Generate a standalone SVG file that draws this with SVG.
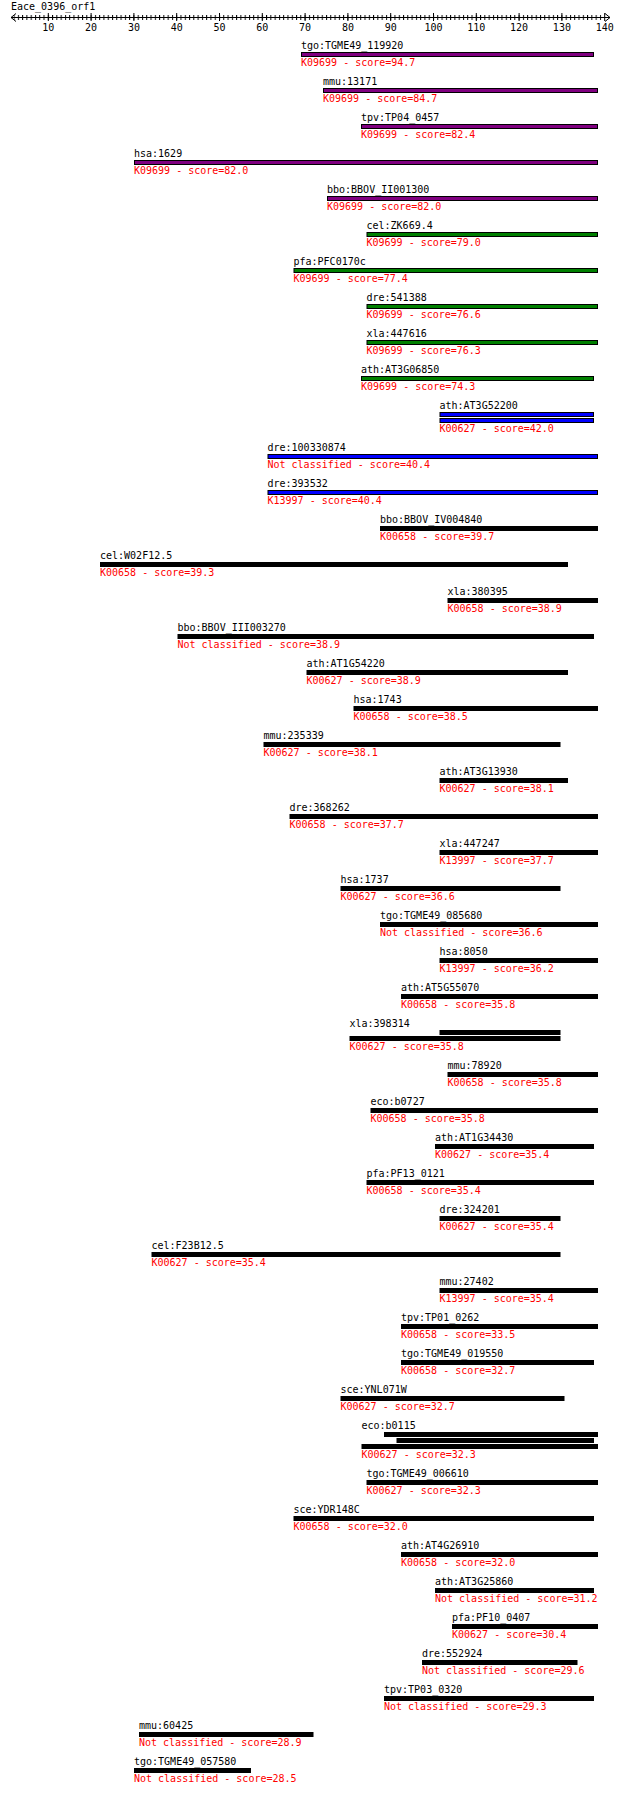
<svg xmlns="http://www.w3.org/2000/svg" width="620" height="1793" viewBox="0 0 620 1793">
<style>
text{font-family:"DejaVu Sans Mono","Liberation Mono",monospace;font-size:10px;fill:#000}
text.sc{fill:#ff0000}
text.tl{text-anchor:middle}
rect.p{fill:#800080;stroke:#000;stroke-width:1}
rect.g{fill:#008000;stroke:#000;stroke-width:1}
rect.b{fill:#0000ff;stroke:#000;stroke-width:1}
rect.k{fill:#000}
.ax{fill:none;stroke:#000;stroke-width:1}
</style>
<defs>
<pattern id="tk" x="13.56" y="15" width="4.28" height="5" patternUnits="userSpaceOnUse"><rect x="0" y="0" width="1" height="5" fill="#000"/></pattern>
</defs>
<rect width="620" height="1793" fill="#fff"/>
<g id="ruler">
<text x="11" y="9.5">Eace_0396_orf1</text>
<path class="ax" d="M11 17.5H610M16 13.5L11 17.5L16 21.5M605 13.5L610 17.5L605 21.5"/>
<rect x="13.56" y="15" width="588" height="5" fill="url(#tk)"/>
<path class="ax" d="M48.3 13v8M91.1 13v8M133.9 13v8M176.7 13v8M219.5 13v8M262.3 13v8M305.1 13v8M347.9 13v8M390.7 13v8M433.5 13v8M476.3 13v8M519.1 13v8M561.9 13v8M604.7 13v8"/>
<text class="tl" x="48.3" y="30.5">10</text>
<text class="tl" x="91.1" y="30.5">20</text>
<text class="tl" x="133.9" y="30.5">30</text>
<text class="tl" x="176.7" y="30.5">40</text>
<text class="tl" x="219.5" y="30.5">50</text>
<text class="tl" x="262.3" y="30.5">60</text>
<text class="tl" x="305.1" y="30.5">70</text>
<text class="tl" x="347.9" y="30.5">80</text>
<text class="tl" x="390.7" y="30.5">90</text>
<text class="tl" x="433.5" y="30.5">100</text>
<text class="tl" x="476.3" y="30.5">110</text>
<text class="tl" x="519.1" y="30.5">120</text>
<text class="tl" x="561.9" y="30.5">130</text>
<text class="tl" x="604.7" y="30.5">140</text>
</g>
<g id="r1"><text x="301" y="48.5">tgo:TGME49_119920</text><rect class="p" x="301.5" y="52.5" width="292" height="4"/><text class="sc" x="301" y="66.3">K09699 - score=94.7</text></g>
<g id="r2"><text x="323" y="84.5">mmu:13171</text><rect class="p" x="323.5" y="88.5" width="274" height="4"/><text class="sc" x="323" y="102.3">K09699 - score=84.7</text></g>
<g id="r3"><text x="361" y="120.5">tpv:TP04_0457</text><rect class="p" x="361.5" y="124.5" width="236" height="4"/><text class="sc" x="361" y="138.3">K09699 - score=82.4</text></g>
<g id="r4"><text x="134" y="156.5">hsa:1629</text><rect class="p" x="134.5" y="160.5" width="463" height="4"/><text class="sc" x="134" y="174.3">K09699 - score=82.0</text></g>
<g id="r5"><text x="327" y="192.5">bbo:BBOV_II001300</text><rect class="p" x="327.5" y="196.5" width="270" height="4"/><text class="sc" x="327" y="210.3">K09699 - score=82.0</text></g>
<g id="r6"><text x="366.5" y="228.5">cel:ZK669.4</text><rect class="g" x="367" y="232.5" width="230.5" height="4"/><text class="sc" x="366.5" y="246.3">K09699 - score=79.0</text></g>
<g id="r7"><text x="293.5" y="264.5">pfa:PFC0170c</text><rect class="g" x="294" y="268.5" width="303.5" height="4"/><text class="sc" x="293.5" y="282.3">K09699 - score=77.4</text></g>
<g id="r8"><text x="366.5" y="300.5">dre:541388</text><rect class="g" x="367" y="304.5" width="230.5" height="4"/><text class="sc" x="366.5" y="318.3">K09699 - score=76.6</text></g>
<g id="r9"><text x="366.5" y="336.5">xla:447616</text><rect class="g" x="367" y="340.5" width="230.5" height="4"/><text class="sc" x="366.5" y="354.3">K09699 - score=76.3</text></g>
<g id="r10"><text x="361" y="372.5">ath:AT3G06850</text><rect class="g" x="361.5" y="376.5" width="232" height="4"/><text class="sc" x="361" y="390.3">K09699 - score=74.3</text></g>
<g id="r11"><text x="439.5" y="408.5">ath:AT3G52200</text><rect class="b" x="440" y="412.5" width="153.5" height="4"/><rect class="b" x="440" y="418.5" width="153.5" height="4"/><text class="sc" x="439.5" y="432.3">K00627 - score=42.0</text></g>
<g id="r12"><text x="267.5" y="450.5">dre:100330874</text><rect class="b" x="268" y="454.5" width="329.5" height="4"/><text class="sc" x="267.5" y="468.3">Not classified - score=40.4</text></g>
<g id="r13"><text x="267.5" y="486.5">dre:393532</text><rect class="b" x="268" y="490.5" width="329.5" height="4"/><text class="sc" x="267.5" y="504.3">K13997 - score=40.4</text></g>
<g id="r14"><text x="380" y="522.5">bbo:BBOV_IV004840</text><rect class="k" x="380" y="526" width="218" height="5"/><text class="sc" x="380" y="540.3">K00658 - score=39.7</text></g>
<g id="r15"><text x="100" y="558.5">cel:W02F12.5</text><rect class="k" x="100" y="562" width="468" height="5"/><text class="sc" x="100" y="576.3">K00658 - score=39.3</text></g>
<g id="r16"><text x="447.5" y="594.5">xla:380395</text><rect class="k" x="447.5" y="598" width="150.5" height="5"/><text class="sc" x="447.5" y="612.3">K00658 - score=38.9</text></g>
<g id="r17"><text x="177.5" y="630.5">bbo:BBOV_III003270</text><rect class="k" x="177.5" y="634" width="416.5" height="5"/><text class="sc" x="177.5" y="648.3">Not classified - score=38.9</text></g>
<g id="r18"><text x="306.5" y="666.5">ath:AT1G54220</text><rect class="k" x="306.5" y="670" width="261.5" height="5"/><text class="sc" x="306.5" y="684.3">K00627 - score=38.9</text></g>
<g id="r19"><text x="353.5" y="702.5">hsa:1743</text><rect class="k" x="353.5" y="706" width="244.5" height="5"/><text class="sc" x="353.5" y="720.3">K00658 - score=38.5</text></g>
<g id="r20"><text x="263.5" y="738.5">mmu:235339</text><rect class="k" x="263.5" y="742" width="297" height="5"/><text class="sc" x="263.5" y="756.3">K00627 - score=38.1</text></g>
<g id="r21"><text x="439.5" y="774.5">ath:AT3G13930</text><rect class="k" x="439.5" y="778" width="128.5" height="5"/><text class="sc" x="439.5" y="792.3">K00627 - score=38.1</text></g>
<g id="r22"><text x="289.5" y="810.5">dre:368262</text><rect class="k" x="289.5" y="814" width="308.5" height="5"/><text class="sc" x="289.5" y="828.3">K00658 - score=37.7</text></g>
<g id="r23"><text x="439.5" y="846.5">xla:447247</text><rect class="k" x="439.5" y="850" width="158.5" height="5"/><text class="sc" x="439.5" y="864.3">K13997 - score=37.7</text></g>
<g id="r24"><text x="340.5" y="882.5">hsa:1737</text><rect class="k" x="340.5" y="886" width="220" height="5"/><text class="sc" x="340.5" y="900.3">K00627 - score=36.6</text></g>
<g id="r25"><text x="380" y="918.5">tgo:TGME49_085680</text><rect class="k" x="380" y="922" width="218" height="5"/><text class="sc" x="380" y="936.3">Not classified - score=36.6</text></g>
<g id="r26"><text x="439.5" y="954.5">hsa:8050</text><rect class="k" x="439.5" y="958" width="158.5" height="5"/><text class="sc" x="439.5" y="972.3">K13997 - score=36.2</text></g>
<g id="r27"><text x="401" y="990.5">ath:AT5G55070</text><rect class="k" x="401" y="994" width="197" height="5"/><text class="sc" x="401" y="1008.3">K00658 - score=35.8</text></g>
<g id="r28"><text x="349.5" y="1026.5">xla:398314</text><rect class="k" x="439.5" y="1030" width="121" height="5"/><rect class="k" x="349.5" y="1036" width="211" height="5"/><text class="sc" x="349.5" y="1050.3">K00627 - score=35.8</text></g>
<g id="r29"><text x="447.5" y="1068.5">mmu:78920</text><rect class="k" x="447.5" y="1072" width="150.5" height="5"/><text class="sc" x="447.5" y="1086.3">K00658 - score=35.8</text></g>
<g id="r30"><text x="370.5" y="1104.5">eco:b0727</text><rect class="k" x="370.5" y="1108" width="227.5" height="5"/><text class="sc" x="370.5" y="1122.3">K00658 - score=35.8</text></g>
<g id="r31"><text x="435" y="1140.5">ath:AT1G34430</text><rect class="k" x="435" y="1144" width="159" height="5"/><text class="sc" x="435" y="1158.3">K00627 - score=35.4</text></g>
<g id="r32"><text x="366.5" y="1176.5">pfa:PF13_0121</text><rect class="k" x="366.5" y="1180" width="227.5" height="5"/><text class="sc" x="366.5" y="1194.3">K00658 - score=35.4</text></g>
<g id="r33"><text x="439.5" y="1212.5">dre:324201</text><rect class="k" x="439.5" y="1216" width="121" height="5"/><text class="sc" x="439.5" y="1230.3">K00627 - score=35.4</text></g>
<g id="r34"><text x="151.5" y="1248.5">cel:F23B12.5</text><rect class="k" x="151.5" y="1252" width="409" height="5"/><text class="sc" x="151.5" y="1266.3">K00627 - score=35.4</text></g>
<g id="r35"><text x="439.5" y="1284.5">mmu:27402</text><rect class="k" x="439.5" y="1288" width="158.5" height="5"/><text class="sc" x="439.5" y="1302.3">K13997 - score=35.4</text></g>
<g id="r36"><text x="401" y="1320.5">tpv:TP01_0262</text><rect class="k" x="401" y="1324" width="197" height="5"/><text class="sc" x="401" y="1338.3">K00658 - score=33.5</text></g>
<g id="r37"><text x="401" y="1356.5">tgo:TGME49_019550</text><rect class="k" x="401" y="1360" width="193" height="5"/><text class="sc" x="401" y="1374.3">K00658 - score=32.7</text></g>
<g id="r38"><text x="340.5" y="1392.5">sce:YNL071W</text><rect class="k" x="340.5" y="1396" width="224" height="5"/><text class="sc" x="340.5" y="1410.3">K00627 - score=32.7</text></g>
<g id="r39"><text x="361.5" y="1428.5">eco:b0115</text><rect class="k" x="384" y="1432" width="214" height="5"/><rect class="k" x="396.5" y="1438" width="197.5" height="5"/><rect class="k" x="361.5" y="1444" width="236.5" height="5"/><text class="sc" x="361.5" y="1458.3">K00627 - score=32.3</text></g>
<g id="r40"><text x="366.5" y="1476.5">tgo:TGME49_006610</text><rect class="k" x="366.5" y="1480" width="231.5" height="5"/><text class="sc" x="366.5" y="1494.3">K00627 - score=32.3</text></g>
<g id="r41"><text x="293.5" y="1512.5">sce:YDR148C</text><rect class="k" x="293.5" y="1516" width="300.5" height="5"/><text class="sc" x="293.5" y="1530.3">K00658 - score=32.0</text></g>
<g id="r42"><text x="401" y="1548.5">ath:AT4G26910</text><rect class="k" x="401" y="1552" width="197" height="5"/><text class="sc" x="401" y="1566.3">K00658 - score=32.0</text></g>
<g id="r43"><text x="435" y="1584.5">ath:AT3G25860</text><rect class="k" x="435" y="1588" width="159" height="5"/><text class="sc" x="435" y="1602.3">Not classified - score=31.2</text></g>
<g id="r44"><text x="452" y="1620.5">pfa:PF10_0407</text><rect class="k" x="452" y="1624" width="146" height="5"/><text class="sc" x="452" y="1638.3">K00627 - score=30.4</text></g>
<g id="r45"><text x="422" y="1656.5">dre:552924</text><rect class="k" x="422" y="1660" width="155.5" height="5"/><text class="sc" x="422" y="1674.3">Not classified - score=29.6</text></g>
<g id="r46"><text x="384" y="1692.5">tpv:TP03_0320</text><rect class="k" x="384" y="1696" width="210" height="5"/><text class="sc" x="384" y="1710.3">Not classified - score=29.3</text></g>
<g id="r47"><text x="139" y="1728.5">mmu:60425</text><rect class="k" x="139" y="1732" width="174.5" height="5"/><text class="sc" x="139" y="1746.3">Not classified - score=28.9</text></g>
<g id="r48"><text x="134" y="1764.5">tgo:TGME49_057580</text><rect class="k" x="134" y="1768" width="117" height="5"/><text class="sc" x="134" y="1782.3">Not classified - score=28.5</text></g>
</svg>
